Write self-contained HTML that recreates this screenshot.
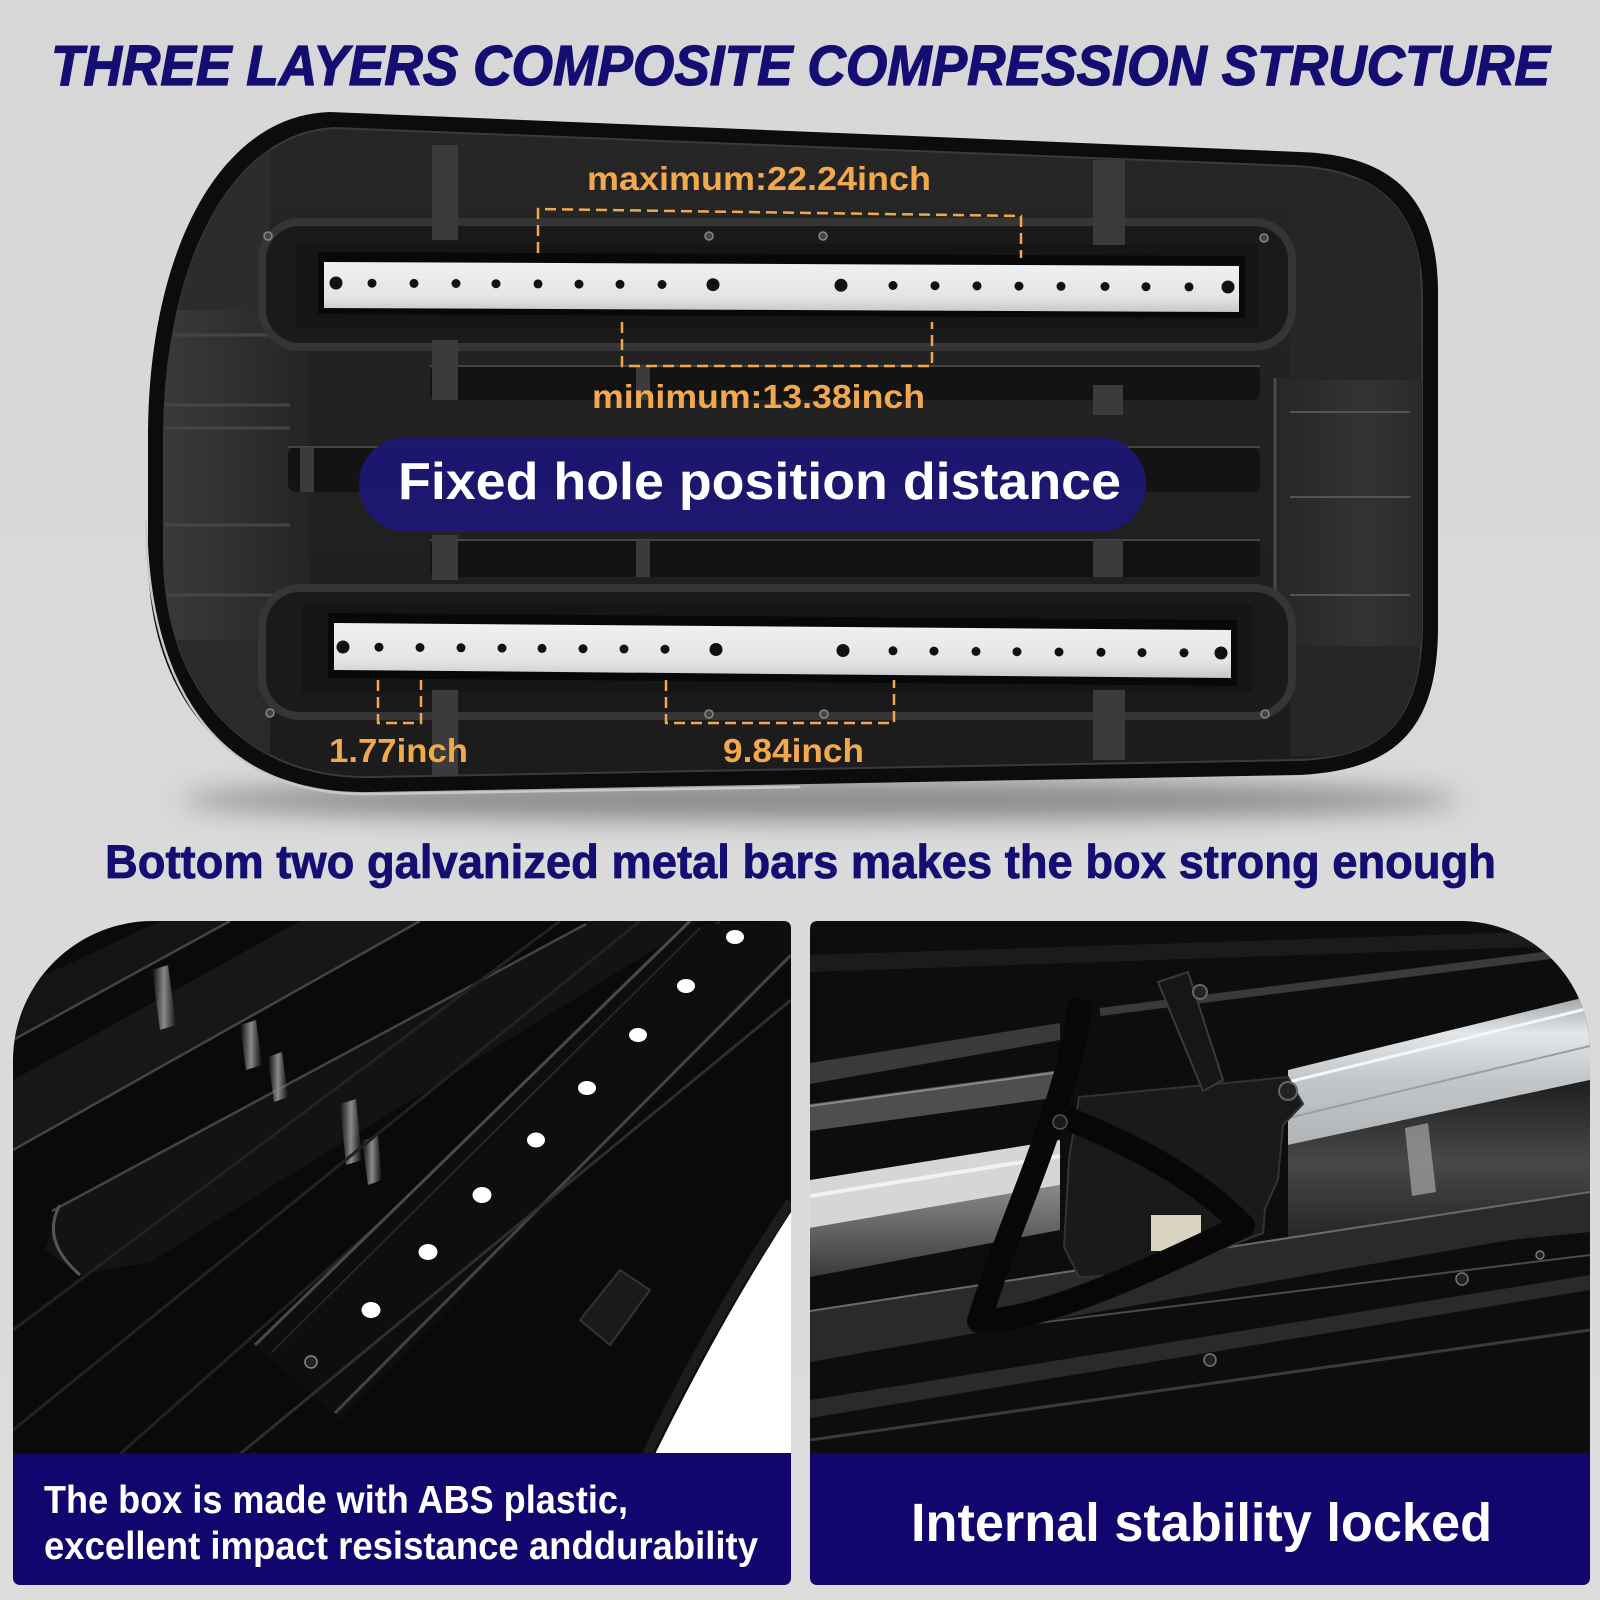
<!DOCTYPE html>
<html><head><meta charset="utf-8"><style>
html,body{margin:0;padding:0;background:#d9d9d9;}
svg{display:block;}
text{font-family:"Liberation Sans",Arial,sans-serif;font-weight:bold;}
</style></head><body>
<svg xmlns="http://www.w3.org/2000/svg" width="1600" height="1600" viewBox="0 0 1600 1600">
<defs>
<filter id="blur" x="-20%" y="-300%" width="140%" height="700%"><feGaussianBlur stdDeviation="13"/></filter>
<linearGradient id="bg" x1="0" y1="0" x2="0" y2="1"><stop offset="0" stop-color="#d7d7d7"/><stop offset="1" stop-color="#dcdcdc"/></linearGradient>
<linearGradient id="barg" x1="0" y1="0" x2="0" y2="1"><stop offset="0" stop-color="#eff1f2"/><stop offset="0.7" stop-color="#e2e4e6"/><stop offset="1" stop-color="#c6c9cc"/></linearGradient>
<linearGradient id="bodyg" x1="0" y1="0" x2="0" y2="1"><stop offset="0" stop-color="#262626"/><stop offset="1" stop-color="#1c1c1c"/></linearGradient>
<linearGradient id="leftg" x1="0" y1="0" x2="1" y2="0"><stop offset="0" stop-color="#3b3b3b"/><stop offset="0.6" stop-color="#2e2e2e"/><stop offset="1" stop-color="#242424"/></linearGradient>
<linearGradient id="rightg" x1="0" y1="0" x2="1" y2="0"><stop offset="0" stop-color="#262626"/><stop offset="0.6" stop-color="#333"/><stop offset="1" stop-color="#2a2a2a"/></linearGradient>
<linearGradient id="silverR" x1="0" y1="0" x2="0" y2="1"><stop offset="0" stop-color="#9fa3a7"/><stop offset="0.25" stop-color="#e4e7ea"/><stop offset="0.55" stop-color="#c3c7ca"/><stop offset="1" stop-color="#b0b4b7"/></linearGradient>
<linearGradient id="glossR" x1="0" y1="0" x2="0" y2="1"><stop offset="0" stop-color="#1e1e1e"/><stop offset="0.45" stop-color="#484848"/><stop offset="1" stop-color="#1c1c1c"/></linearGradient>
<linearGradient id="glossL" x1="0" y1="0" x2="0" y2="1"><stop offset="0" stop-color="#8a8a8a"/><stop offset="1" stop-color="#3a3a3a"/></linearGradient>
<linearGradient id="hl" x1="0" y1="0" x2="1" y2="0"><stop offset="0" stop-color="#888" stop-opacity="0"/><stop offset="0.5" stop-color="#8a8a8a"/><stop offset="1" stop-color="#888" stop-opacity="0"/></linearGradient>
<clipPath id="inner"><path d="M335,128 L1295,166 C1380,170 1420,210 1422,292 L1422,628 C1420,720 1385,757 1298,760 L372,777 C245,780 166,690 164,558 L164,432 C166,262 232,132 335,128 Z"/></clipPath>
<clipPath id="lp"><path d="M13,1061 A140 140 0 0 1 153,921 L783,921 Q791,921 791,929 L791,1577 Q791,1585 783,1585 L21,1585 Q13,1585 13,1577 Z"/></clipPath>
<clipPath id="rp"><path d="M818,921 L1460,921 A130 130 0 0 1 1590,1051 L1590,1577 Q1590,1585 1582,1585 L818,1585 Q810,1585 810,1577 L810,929 Q810,921 818,921 Z"/></clipPath>
</defs>

<rect x="0" y="0" width="1600" height="1600" fill="url(#bg)"/>

<!-- Title -->
<text x="51" y="85" font-size="57" font-style="italic" fill="#150e72" stroke="#150e72" stroke-width="1.3" textLength="1499" lengthAdjust="spacingAndGlyphs">THREE LAYERS COMPOSITE COMPRESSION STRUCTURE</text>

<!-- shadow under box -->
<ellipse cx="820" cy="800" rx="640" ry="20" fill="#6e6e6e" opacity="0.75" filter="url(#blur)"/>

<!-- Box outer rim -->
<path d="M330,112 L1300,152 C1395,155 1437,200 1438,290 L1438,630 C1437,730 1395,770 1300,775 L370,792 C230,795 150,700 148,560 L148,430 C150,250 220,115 330,112 Z" fill="#0c0c0c"/>
<path d="M146,520 C148,702 228,797 372,794 L800,787" fill="none" stroke="#c9c9c9" stroke-width="2.5"/>
<!-- Box body -->
<path d="M335,128 L1295,166 C1380,170 1420,210 1422,292 L1422,628 C1420,720 1385,757 1298,760 L372,777 C245,780 166,690 164,558 L164,432 C166,262 232,132 335,128 Z" fill="url(#bodyg)" stroke="#3a3a3a" stroke-width="2"/>

<g clip-path="url(#inner)">
  <rect x="150" y="300" width="160" height="340" fill="url(#leftg)"/>
  <rect x="160" y="140" width="110" height="170" fill="#2c2c2c"/>
  <rect x="160" y="640" width="110" height="150" fill="#2a2a2a"/>
  <path d="M165,335 L300,335 M165,405 L290,405 M165,428 L290,428 M165,525 L290,525 M165,595 L300,595" stroke="#454545" stroke-width="3"/>
  <rect x="1275" y="378" width="150" height="268" fill="url(#rightg)"/>
  <path d="M1275,378 L1275,646" stroke="#4a4a4a" stroke-width="3"/>
  <path d="M1290,412 L1410,412 M1290,497 L1410,497 M1290,595 L1410,595" stroke="#555" stroke-width="2"/>
  <rect x="1290" y="180" width="130" height="200" fill="#262626"/>
  <rect x="1290" y="646" width="130" height="110" fill="#262626"/>

  <rect x="262" y="222" width="1030" height="125" rx="38" fill="#1a1a1a" stroke="#353535" stroke-width="8"/>
  <rect x="296" y="244" width="962" height="84" fill="#151515"/>
  <rect x="262" y="588" width="1030" height="128" rx="38" fill="#1a1a1a" stroke="#353535" stroke-width="8"/>
  <rect x="302" y="605" width="950" height="88" fill="#151515"/>

  <rect x="430" y="366" width="830" height="34" rx="6" fill="#131313"/>
  <line x1="430" y1="366" x2="1260" y2="366" stroke="#454545" stroke-width="2"/>
  <rect x="288" y="447" width="972" height="45" rx="8" fill="#131313"/>
  <line x1="288" y1="447" x2="1260" y2="447" stroke="#454545" stroke-width="2"/>
  <rect x="430" y="540" width="830" height="37" rx="6" fill="#131313"/>
  <line x1="430" y1="540" x2="1260" y2="540" stroke="#454545" stroke-width="2"/>

  <g fill="#3b3b3b">
    <rect x="432" y="145" width="26" height="95"/>
    <rect x="432" y="340" width="26" height="60"/>
    <rect x="432" y="535" width="26" height="45"/>
    <rect x="432" y="690" width="26" height="85"/>
    <rect x="636" y="366" width="14" height="34"/>
    <rect x="636" y="540" width="14" height="37"/>
    <rect x="1093" y="160" width="32" height="85"/>
    <rect x="1093" y="385" width="30" height="30"/>
    <rect x="1093" y="540" width="30" height="37"/>
    <rect x="1093" y="690" width="32" height="70"/>
    <rect x="300" y="447" width="14" height="45"/>
  </g>
</g>

<g fill="#444" stroke="#888" stroke-width="1.5">
  <circle cx="268" cy="236" r="4"/><circle cx="709" cy="236" r="4"/><circle cx="823" cy="236" r="4"/><circle cx="1264" cy="238" r="4"/>
  <circle cx="270" cy="713" r="4"/><circle cx="709" cy="714" r="4"/><circle cx="824" cy="714" r="4"/><circle cx="1265" cy="714" r="4"/>
</g>

<!-- top bar -->
<polygon points="318,252 1245,256 1245,318 318,314" fill="#080808"/>
<polygon points="324,262 1239,266 1239,312 324,308" fill="url(#barg)"/>
<g fill="#111">
  <circle cx="336" cy="283" r="6.5"/><circle cx="372" cy="283.2" r="4.5"/><circle cx="414" cy="283.4" r="4.5"/><circle cx="456" cy="283.5" r="4.5"/><circle cx="496" cy="283.7" r="4.5"/><circle cx="538" cy="283.9" r="4.5"/><circle cx="579" cy="284.1" r="4.5"/><circle cx="620" cy="284.3" r="4.5"/><circle cx="662" cy="284.5" r="4.5"/><circle cx="713" cy="284.7" r="6.5"/>
  <circle cx="841" cy="285.3" r="6.5"/><circle cx="893" cy="285.5" r="4.5"/><circle cx="935" cy="285.7" r="4.5"/><circle cx="977" cy="285.9" r="4.5"/><circle cx="1019" cy="286.1" r="4.5"/><circle cx="1061" cy="286.3" r="4.5"/><circle cx="1105" cy="286.5" r="4.5"/><circle cx="1146" cy="286.7" r="4.5"/><circle cx="1189" cy="286.9" r="4.5"/><circle cx="1228" cy="287" r="6.5"/>
</g>

<!-- bottom bar -->
<polygon points="328,613 1237,620 1237,686 328,678" fill="#080808"/>
<polygon points="334,623 1231,630 1231,678 334,670" fill="url(#barg)"/>
<g fill="#111">
  <circle cx="343" cy="647" r="6.5"/><circle cx="379" cy="647.2" r="4.5"/><circle cx="420" cy="647.5" r="4.5"/><circle cx="461" cy="647.8" r="4.5"/><circle cx="502" cy="648.1" r="4.5"/><circle cx="542" cy="648.4" r="4.5"/><circle cx="583" cy="648.7" r="4.5"/><circle cx="624" cy="649" r="4.5"/><circle cx="665" cy="649.2" r="4.5"/><circle cx="716" cy="649.5" r="6.5"/>
  <circle cx="843" cy="650.5" r="6.5"/><circle cx="893" cy="650.8" r="4.5"/><circle cx="934" cy="651.1" r="4.5"/><circle cx="976" cy="651.4" r="4.5"/><circle cx="1017" cy="651.7" r="4.5"/><circle cx="1059" cy="652" r="4.5"/><circle cx="1101" cy="652.3" r="4.5"/><circle cx="1142" cy="652.6" r="4.5"/><circle cx="1184" cy="652.8" r="4.5"/><circle cx="1221" cy="653" r="6.5"/>
</g>

<g fill="none" stroke="#f0a850" stroke-width="2.5" stroke-dasharray="11 6">
  <polyline points="538,253 538,209 1021,216 1021,258"/>
  <polyline points="622,322 622,366 932,366 932,322"/>
  <polyline points="378,680 378,723 421,723 421,680"/>
  <polyline points="666,680 666,723 894,723 894,680"/>
</g>

<g fill="#f2a94e">
  <text x="587" y="190" font-size="33" textLength="344" lengthAdjust="spacingAndGlyphs">maximum:22.24inch</text>
  <text x="592" y="408" font-size="33" textLength="333" lengthAdjust="spacingAndGlyphs">minimum:13.38inch</text>
  <text x="329" y="762" font-size="33" textLength="139" lengthAdjust="spacingAndGlyphs">1.77inch</text>
  <text x="723" y="762" font-size="33" textLength="141" lengthAdjust="spacingAndGlyphs">9.84inch</text>
</g>

<rect x="359" y="437" width="787" height="95" rx="47" fill="#1e1773" opacity="0.96"/>
<text x="398" y="499" font-size="52" fill="#ffffff" textLength="723" lengthAdjust="spacingAndGlyphs">Fixed hole position distance</text>

<text x="105" y="878" font-size="47" fill="#150e72" stroke="#150e72" stroke-width="0.8" textLength="1391" lengthAdjust="spacingAndGlyphs">Bottom two galvanized metal bars makes the box strong enough</text>

<!-- LEFT PANEL -->
<g clip-path="url(#lp)">
  <rect x="13" y="921" width="778" height="664" fill="#0a0a0a"/>
  <polygon points="13,990 160,921 230,921 13,1040" fill="#141414"/>
  <polygon points="13,1080 300,921 420,921 13,1150" fill="#171717"/>
  <polygon points="45,1250 60,1205 590,921 700,921 150,1262 80,1275" fill="#131313"/>
  <path d="M13,1040 L230,921 M13,1150 L420,921 M52,1211 L586,924" stroke="#444" stroke-width="2.5" fill="none"/>
  <path d="M60,1205 Q40,1240 80,1275" stroke="#555" stroke-width="3" fill="none"/>
  <g fill="url(#hl)">
    <polygon points="152,970 168,965 176,1025 160,1030"/>
    <polygon points="240,1025 256,1020 262,1065 246,1070"/>
    <polygon points="268,1057 282,1052 288,1097 274,1102"/>
    <polygon points="340,1104 356,1099 362,1160 346,1165"/>
    <polygon points="362,1141 378,1136 382,1180 368,1185"/>
  </g>
  <path d="M13,1330 L560,921 M13,1430 L640,921 M120,1454 L720,921" stroke="#222" stroke-width="3" fill="none"/>
  <polygon points="255,1345 680,926 780,921 791,921 791,960 340,1420" fill="#0e0e0e"/>
  <path d="M255,1345 L690,921" stroke="#4a4a4a" stroke-width="3" fill="none"/>
  <path d="M272,1352 L700,928" stroke="#262626" stroke-width="2" fill="none"/>
  <path d="M335,1413 L791,955" stroke="#444" stroke-width="3" fill="none"/>
  <path d="M240,1454 L791,1000" stroke="#2e2e2e" stroke-width="3" fill="none"/>
  <polygon points="580,1320 620,1270 650,1290 610,1345" fill="#1a1a1a" stroke="#333" stroke-width="2"/>
  <g fill="#ffffff">
    <ellipse cx="735" cy="937" rx="9" ry="7"/>
    <ellipse cx="686" cy="986" rx="9" ry="7"/>
    <ellipse cx="638" cy="1035" rx="9" ry="7"/>
    <ellipse cx="587" cy="1088" rx="9" ry="7"/>
    <ellipse cx="536" cy="1140" rx="9" ry="7.5"/>
    <ellipse cx="482" cy="1195" rx="9.5" ry="8"/>
    <ellipse cx="428" cy="1252" rx="9.5" ry="8"/>
    <ellipse cx="371" cy="1310" rx="9.5" ry="8"/>
  </g>
  <circle cx="311" cy="1362" r="6" fill="#222" stroke="#888" stroke-width="1.5"/>
  <path d="M791,1212 Q722,1318 655,1454 L791,1454 Z" fill="#ffffff"/>
  <path d="M791,1202 Q716,1312 647,1454" stroke="#1c1c1c" stroke-width="10" fill="none"/>
  <rect x="13" y="1453" width="778" height="132" fill="#12066e"/>
</g>
<text x="44" y="1513" font-size="39" fill="#ffffff" textLength="584" lengthAdjust="spacingAndGlyphs">The box is made with ABS plastic,</text>
<text x="44" y="1559" font-size="39" fill="#ffffff" textLength="714" lengthAdjust="spacingAndGlyphs">excellent impact resistance anddurability</text>

<!-- RIGHT PANEL -->
<g clip-path="url(#rp)">
  <rect x="810" y="921" width="780" height="664" fill="#0d0d0d"/>
  <!-- upper bands -->
  <polygon points="810,955 1590,930 1590,945 810,972" fill="#1b1b1b"/>
  <path d="M1100,1012 L1590,950" stroke="#3a3a3a" stroke-width="8"/>
  <polygon points="810,1063 1060,1023 1060,1040 810,1084" fill="#3a3a3a"/>
  <polygon points="810,1104 1060,1070 1060,1097 810,1131" fill="#4e4e4e"/>
  <path d="M810,1106 L1060,1072" stroke="#8a8a8a" stroke-width="2"/>
  <!-- left silver -->
  <polygon points="810,1180 1060,1140 1060,1185 810,1228" fill="#d6d6d6"/>
  <polygon points="810,1228 1060,1185 1060,1230 810,1277" fill="url(#glossL)"/>
  <path d="M810,1196 L1060,1156" stroke="#f2f2f2" stroke-width="4"/>
  <!-- right rail -->
  <polygon points="1288,1070 1590,996 1590,1080 1288,1145" fill="url(#silverR)"/>
  <path d="M1288,1082 L1590,1008" stroke="#f4f6f8" stroke-width="3"/>
  <path d="M1288,1118 L1590,1046" stroke="#9a9ea2" stroke-width="2"/>
  <!-- mid-right gloss -->
  <polygon points="1288,1145 1590,1080 1590,1232 1288,1262" fill="url(#glossR)"/>
  <polygon points="1405,1128 1428,1123 1436,1192 1412,1196" fill="#9a9a9a" opacity="0.8"/>
  <!-- lower bands -->
  <polygon points="810,1311 1590,1192 1590,1226 810,1362" fill="#2a2a2a"/>
  <path d="M810,1311 L1590,1192" stroke="#6a6a6a" stroke-width="2"/>
  <polygon points="810,1400 1590,1275 1590,1290 810,1418" fill="#2a2a2a"/>
  <path d="M810,1440 L1590,1330" stroke="#3a3a3a" stroke-width="3"/>
  <path d="M980,1330 L1590,1255" stroke="#4a4a4a" stroke-width="2"/>
  <!-- mount -->
  <polygon points="1079,1097 1258,1080 1288,1077 1303,1104 1283,1125 1278,1179 1265,1209 1263,1233 1158,1274 1079,1277 1064,1247 1069,1159" fill="#1a1a1a" stroke="#333" stroke-width="2"/>
  <polygon points="1158,982 1188,972 1223,1080 1203,1091" fill="#161616" stroke="#3a3a3a" stroke-width="2"/>
  <circle cx="1288" cy="1091" r="9" fill="#222" stroke="#666" stroke-width="2"/>
  <circle cx="1200" cy="992" r="7" fill="#222" stroke="#666" stroke-width="2"/>
  <rect x="1151" y="1215" width="50" height="36" fill="#d8d4c0"/>
  <!-- strap -->
  <path d="M1081,999 C1070,1100 1010,1220 979,1321 C1040,1322 1150,1270 1243,1226 C1190,1170 1110,1135 1049,1111" fill="none" stroke="#070707" stroke-width="24" stroke-linejoin="round"/>
  <circle cx="1060" cy="1122" r="7" fill="#1a1a1a" stroke="#555" stroke-width="1.5"/>
  <g fill="#222" stroke="#777" stroke-width="1.5">
    <circle cx="1462" cy="1279" r="6"/><circle cx="1210" cy="1360" r="6"/><circle cx="1540" cy="1255" r="4"/>
  </g>
  <rect x="810" y="1453" width="780" height="132" fill="#12066e"/>
</g>
<text x="911" y="1541" font-size="54" fill="#ffffff" textLength="581" lengthAdjust="spacingAndGlyphs">Internal stability locked</text>
</svg>
</body></html>
